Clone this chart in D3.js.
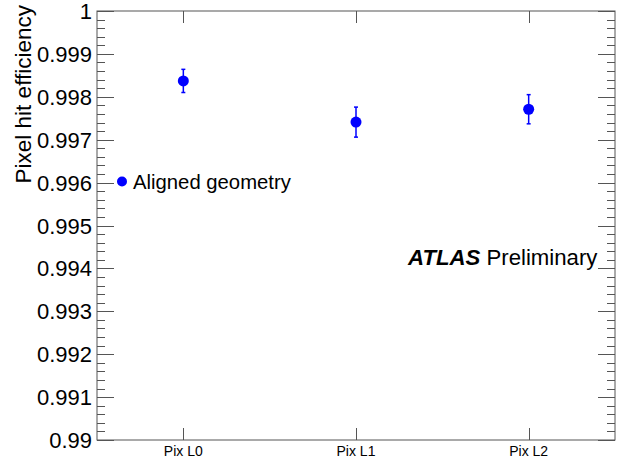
<!DOCTYPE html>
<html><head><meta charset="utf-8">
<script src="https://cdn.jsdelivr.net/npm/d3@7"></script>
<style>body{margin:0;background:#fff}svg{display:block;font-family:"Liberation Sans",Arial,sans-serif}</style>
</head><body>
<script>
const categories = ["Pix L0", "Pix L1", "Pix L2"];
const values = [0.99837, 0.99741, 0.99771];
const errors = [0.00027, 0.00035, 0.00034];
const yTicks = [0.99, 0.991, 0.992, 0.993, 0.994, 0.995, 0.996, 0.997, 0.998, 0.999, 1];
const yTickLabels = ["0.99", "0.991", "0.992", "0.993", "0.994", "0.995", "0.996", "0.997", "0.998", "0.999", "1"];
const legendLabel = "Aligned geometry";

const W = 619, H = 462;
const m = {l: 97, r: 4, t: 11, b: 22};
const svg = d3.select("body").append("svg").attr("width", W).attr("height", H);
const x = d3.scaleBand().domain(categories).range([m.l, W - m.r]);
const y = d3.scaleLinear().domain([0.99, 1]).range([H - m.b, m.t]);
const axisCol = "#555";
const blue = "#0000ff";

// frame
svg.append("rect").attr("x", m.l).attr("y", m.t).attr("width", W - m.r - m.l).attr("height", H - m.b - m.t)
  .attr("fill", "none").attr("stroke", axisCol).attr("stroke-width", 1);

// y ticks (major + minor) left and right
const minor = d3.range(0, 51).map(i => 0.99 + i * 0.0002);
const g = svg.append("g").attr("stroke", axisCol).attr("stroke-width", 1);
minor.forEach((v, i) => {
  const len = i % 5 === 0 ? 17 : 8;
  const yy = Math.round(y(v)) + 0.5;
  g.append("line").attr("x1", m.l).attr("x2", m.l + len).attr("y1", yy).attr("y2", yy);
  g.append("line").attr("x1", W - m.r).attr("x2", W - m.r - len).attr("y1", yy).attr("y2", yy);
});
// x ticks bottom and top
categories.forEach(c => {
  const xx = Math.round(x(c) + x.bandwidth() / 2) + 0.5;
  g.append("line").attr("x1", xx).attr("x2", xx).attr("y1", H - m.b).attr("y2", H - m.b - 12);
  g.append("line").attr("x1", xx).attr("x2", xx).attr("y1", m.t).attr("y2", m.t + 12);
});

// y tick labels
yTicks.forEach((v, i) => {
  svg.append("text").attr("x", m.l - 5).attr("y", y(v) + 8).attr("text-anchor", "end")
    .attr("font-size", 22).attr("fill", "#000").text(yTickLabels[i]);
});
// x tick labels
categories.forEach(c => {
  svg.append("text").attr("x", x(c) + x.bandwidth() / 2).attr("y", H - 6).attr("text-anchor", "middle")
    .attr("font-size", 14).attr("fill", "#000").text(c);
});

// y title
svg.append("text").attr("transform", "translate(31,5) rotate(-90)").attr("text-anchor", "end")
  .attr("font-size", 22.5).attr("fill", "#000").text("Pixel hit efficiency");

// data points
values.forEach((v, i) => {
  const cx = x(categories[i]) + x.bandwidth() / 2;
  const y1 = y(v + errors[i]), y2 = y(v - errors[i]);
  svg.append("line").attr("x1", cx).attr("x2", cx).attr("y1", y1).attr("y2", y2).attr("stroke", blue).attr("stroke-width", 1.5);
  [y1, y2].forEach(yy => svg.append("line").attr("x1", cx - 2).attr("x2", cx + 2).attr("y1", yy).attr("y2", yy).attr("stroke", blue).attr("stroke-width", 1.5));
  svg.append("circle").attr("cx", cx).attr("cy", y(v)).attr("r", 5.5).attr("fill", blue);
});

// legend
svg.append("circle").attr("cx", 122).attr("cy", 181.5).attr("r", 5).attr("fill", blue);
svg.append("text").attr("x", 133).attr("y", 189).attr("font-size", 20.3).attr("fill", "#000").text(legendLabel);

// ATLAS label
const t = svg.append("text").attr("x", 408).attr("y", 265).attr("font-size", 22.2).attr("fill", "#000");
t.append("tspan").attr("font-weight", "bold").attr("font-style", "italic").text("ATLAS");
t.append("tspan").text(" Preliminary");
</script>
</body></html>
